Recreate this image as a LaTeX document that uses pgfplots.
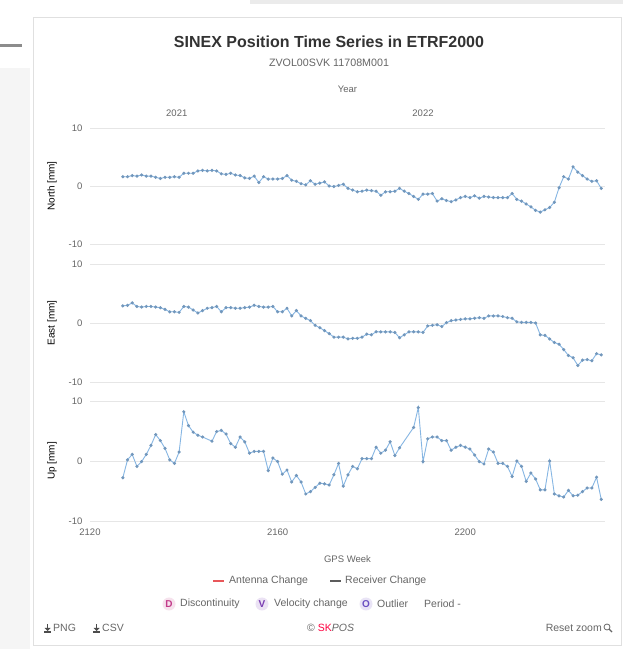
\documentclass[border=0pt]{standalone}
\usepackage{pgfplots}
\pgfplotsset{compat=1.18}
\usepackage{fontspec}
\setmainfont{Liberation Sans}
\definecolor{serie}{HTML}{86B6E3}
\definecolor{mk}{HTML}{7297BC}
\definecolor{txt}{HTML}{666666}
\definecolor{ttl}{HTML}{333333}
\definecolor{grd}{HTML}{E6E6E6}
\definecolor{antenna}{HTML}{E8575A}
\definecolor{pinkD}{HTML}{C23B8A}
\definecolor{purV}{HTML}{7A3DB2}
\definecolor{purO}{HTML}{6A4FC2}

\pgfplotsset{
  panel/.style={
    scale only axis, width=515pt,
    xmin=2120, xmax=2229.8, ymin=-10, ymax=10,
    ytick={-10,0,10},
    ymajorgrids, grid style={grd, line width=0.6pt},
    axis line style={draw=none},
    major tick length=0pt,
    tick label style={font=\fontsize{9.5}{11}\selectfont, text=txt},
    label style={font=\fontsize{9.5}{11}\selectfont, text=txt},
    /pgf/number format/assume math mode=true,
    /pgf/number format/1000 sep={},
    yticklabel style={anchor=east, xshift=-4pt},
    every axis y label/.style={at={(rel axis cs:0,0.5)}, xshift=-38pt, rotate=90, anchor=center},
    clip=false,
  },
  ser/.style={serie, line width=0.9pt, mark=*, mark size=1.1pt, mark options={fill=mk, draw=mk}},
}

\begin{document}
\begin{tikzpicture}
% page background and frame
\path[use as bounding box, fill=white] (0pt,0pt) rectangle (623pt,649pt);
\fill[black!4] (0pt,0pt) rectangle (30pt,581pt);
\fill[black!45] (0pt,602pt) rectangle (22pt,605pt);
\fill[black!8] (250pt,645pt) rectangle (623pt,649pt);
\draw[black!12] (33pt,4pt) rectangle (621pt,632pt);

% titles
\node[font=\bfseries\fontsize{16}{18}\selectfont, text=ttl] at (329pt,607pt) {SINEX Position Time Series in ETRF2000};
\node[font=\fontsize{10.7}{12}\selectfont, text=txt] at (329pt,586pt) {ZVOL00SVK 11708M001};

% North
\begin{axis}[panel, at={(90pt,405pt)}, anchor=south west, height=116pt,
  axis x line*=top, xtick={2138.5,2191}, xticklabels={2021,2022},
  x axis line style={draw=none},
  xticklabel style={yshift=8pt},
  xlabel={Year}, xlabel style={yshift=10pt},
  ylabel={North [mm]}]
\addplot[ser] table {
2127 1.6
2128 1.6
2129 1.8
2130 1.7
2131 1.9
2132 1.7
2133 1.7
2134 1.5
2135 1.3
2136 1.5
2137 1.5
2138 1.6
2139 1.5
2140 2.2
2141 2.2
2142 2.2
2143 2.6
2144 2.7
2145 2.6
2146 2.7
2147 2.6
2148 2.1
2149 2.0
2150 2.2
2151 1.9
2152 1.8
2153 1.4
2154 1.3
2155 1.7
2156 0.6
2157 1.6
2158 1.2
2159 1.2
2160 1.2
2161 1.3
2162 1.8
2163 1.0
2164 0.8
2165 0.4
2166 0.2
2167 0.9
2168 0.3
2169 0.5
2170 0.7
2171 0.0
2172 -0.1
2173 0.1
2174 0.3
2175 -0.4
2176 -0.7
2177 -1.0
2178 -0.9
2179 -0.7
2180 -0.8
2181 -0.9
2182 -1.6
2183 -1.0
2184 -1.0
2185 -0.9
2186 -0.4
2187 -0.9
2188 -1.3
2189 -1.8
2190 -2.3
2191 -1.4
2192 -1.4
2193 -1.3
2194 -2.6
2195 -2.2
2196 -2.5
2197 -2.7
2198 -2.4
2199 -2.0
2200 -1.8
2201 -2.0
2202 -1.7
2203 -2.1
2204 -1.8
2205 -1.9
2206 -2.0
2207 -2.0
2208 -2.0
2209 -2.0
2210 -1.3
2211 -2.3
2212 -2.6
2213 -3.1
2214 -3.6
2215 -4.2
2216 -4.5
2217 -4.1
2218 -3.7
2219 -2.8
2220 -0.3
2221 1.6
2222 1.2
2223 3.3
2224 2.4
2225 1.8
2226 1.2
2227 0.8
2228 0.9
2229 -0.4
};
\end{axis}

% East
\begin{axis}[panel, at={(90pt,267pt)}, anchor=south west, height=118pt,
  xtick=\empty, ylabel={East [mm]}]
\addplot[ser] table {
2127 2.9
2128 3.0
2129 3.4
2130 2.8
2131 2.7
2132 2.8
2133 2.8
2134 2.7
2135 2.6
2136 2.3
2137 1.9
2138 1.9
2139 1.8
2140 2.8
2141 2.7
2142 2.2
2143 1.7
2144 2.1
2145 2.5
2146 2.6
2147 2.8
2148 1.9
2149 2.6
2150 2.6
2151 2.5
2152 2.5
2153 2.6
2154 2.7
2155 3.0
2156 2.8
2157 2.7
2158 2.7
2159 2.8
2160 1.9
2161 1.9
2162 2.5
2163 1.2
2164 2.1
2165 1.2
2166 0.8
2167 0.4
2168 -0.4
2169 -0.8
2170 -1.3
2171 -1.8
2172 -2.4
2173 -2.4
2174 -2.4
2175 -2.7
2176 -2.6
2177 -2.6
2178 -2.4
2179 -1.9
2180 -2.0
2181 -1.5
2182 -1.5
2183 -1.5
2184 -1.5
2185 -1.6
2186 -2.5
2187 -2.0
2188 -1.5
2189 -1.5
2190 -1.5
2191 -1.6
2192 -0.5
2193 -0.4
2194 -0.3
2195 -0.6
2196 0.05
2197 0.4
2198 0.5
2199 0.6
2200 0.7
2201 0.7
2202 0.8
2203 0.9
2204 0.8
2205 1.2
2206 1.2
2207 1.2
2208 1.1
2209 0.9
2210 0.8
2211 0.2
2212 0.1
2213 0.1
2214 0.1
2215 0.0
2216 -2.0
2217 -2.1
2218 -2.7
2219 -3.3
2220 -3.6
2221 -4.5
2222 -5.5
2223 -5.9
2224 -7.2
2225 -6.3
2226 -6.2
2227 -6.4
2228 -5.2
2229 -5.4
};
\end{axis}

% Up
\begin{axis}[panel, at={(90pt,128pt)}, anchor=south west, height=120pt,
  axis x line*=bottom, x axis line style={draw=none},
  xtick={2120,2160,2200}, xticklabel style={yshift=-4pt},
  xlabel={GPS Week}, xlabel style={yshift=-13pt},
  ylabel={Up [mm]}]
\addplot[ser] table {
2127 -2.8
2128 0.2
2129 1.1
2130 -0.9
2131 -0.1
2132 1.1
2133 2.6
2134 4.4
2135 3.4
2136 2.1
2137 0.2
2138 -0.4
2139 1.5
2140 8.2
2141 5.9
2142 4.8
2143 4.3
2144 4.0
2146 3.3
2147 4.9
2148 5.1
2149 4.5
2150 2.9
2151 2.3
2152 4.0
2153 3.2
2154 1.3
2155 1.6
2156 1.6
2157 1.6
2158 -1.6
2159 0.5
2160 -0.1
2161 -2.2
2162 -1.5
2163 -3.5
2164 -2.4
2165 -3.5
2166 -5.5
2167 -5.1
2168 -4.4
2169 -3.7
2170 -3.8
2171 -4.0
2172 -2.3
2173 -0.4
2174 -4.2
2175 -2.3
2176 -0.9
2177 -1.3
2178 0.4
2179 0.4
2180 0.4
2181 2.3
2182 1.3
2183 1.8
2184 3.2
2185 0.9
2186 2.2
2189 5.6
2190 8.9
2191 -0.1
2192 3.7
2193 4.0
2194 4.0
2195 3.4
2196 3.4
2197 1.8
2198 2.3
2199 2.6
2200 2.3
2201 2.0
2202 1.0
2203 -0.1
2204 -0.5
2205 2.0
2206 1.5
2207 -0.4
2208 -0.4
2209 -0.9
2210 -2.6
2211 0.0
2212 -0.9
2213 -3.4
2214 -2.0
2215 -3.0
2216 -4.8
2217 -4.8
2218 0.0
2219 -5.5
2220 -5.8
2221 -6.0
2222 -4.9
2223 -5.8
2224 -5.7
2225 -5.1
2226 -4.5
2227 -4.5
2228 -2.7
2229 -6.4
};
\end{axis}

% legend rows
\begin{scope}[font=\fontsize{10.5}{12}\selectfont, text=txt]
\draw[antenna, line width=1.1pt] (213pt,68pt) -- (224pt,68pt);
\node[anchor=west, inner sep=0pt] at (229pt,68pt) {Antenna Change};
\draw[ttl!80, line width=1.1pt] (330pt,68pt) -- (341pt,68pt);
\node[anchor=west, inner sep=0pt] at (345pt,68pt) {Receiver Change};

\fill[pinkD!15] (169pt,45pt) circle (6.5pt);
\node[text=pinkD, font=\bfseries\fontsize{10}{12}\selectfont] at (169pt,45pt) {D};
\node[anchor=west, inner sep=0pt] at (180pt,45pt) {Discontinuity};
\fill[purV!15] (262pt,45pt) circle (6.5pt);
\node[text=purV, font=\bfseries\fontsize{10}{12}\selectfont] at (262pt,45pt) {V};
\node[anchor=west, inner sep=0pt] at (274pt,45pt) {Velocity change};
\fill[purO!15] (366pt,45pt) circle (6.5pt);
\node[text=purO, font=\bfseries\fontsize{10}{12}\selectfont] at (366pt,45pt) {O};
\node[anchor=west, inner sep=0pt] at (377pt,45pt) {Outlier};
\node[anchor=west, inner sep=0pt] at (424pt,45pt) {Period -};

% bottom row
\fill[black!70] (44pt,16pt) rectangle (51pt,17.5pt);
\fill[black!70] (46.6pt,25pt) rectangle (48.4pt,21pt);
\fill[black!70] (44.5pt,21pt) -- (50.5pt,21pt) -- (47.5pt,18pt) -- cycle;
\node[anchor=west, inner sep=0pt] at (53pt,21pt) {PNG};
\fill[black!70] (93pt,16pt) rectangle (100pt,17.5pt);
\fill[black!70] (95.6pt,25pt) rectangle (97.4pt,21pt);
\fill[black!70] (93.5pt,21pt) -- (99.5pt,21pt) -- (96.5pt,18pt) -- cycle;
\node[anchor=west, inner sep=0pt] at (102pt,21pt) {CSV};
\node[anchor=west, inner sep=0pt] at (307pt,21pt) {© \textcolor{red!75!magenta}{SK}\textit{POS}};
\node[anchor=east, inner sep=0pt] at (602pt,21pt) {Reset zoom};
\draw[black!60, line width=0.8pt] (607pt,22pt) circle (3pt);
\draw[black!60, line width=1.2pt] (609.2pt,19.8pt) -- (612pt,17pt);
\end{scope}
\end{tikzpicture}
\end{document}
